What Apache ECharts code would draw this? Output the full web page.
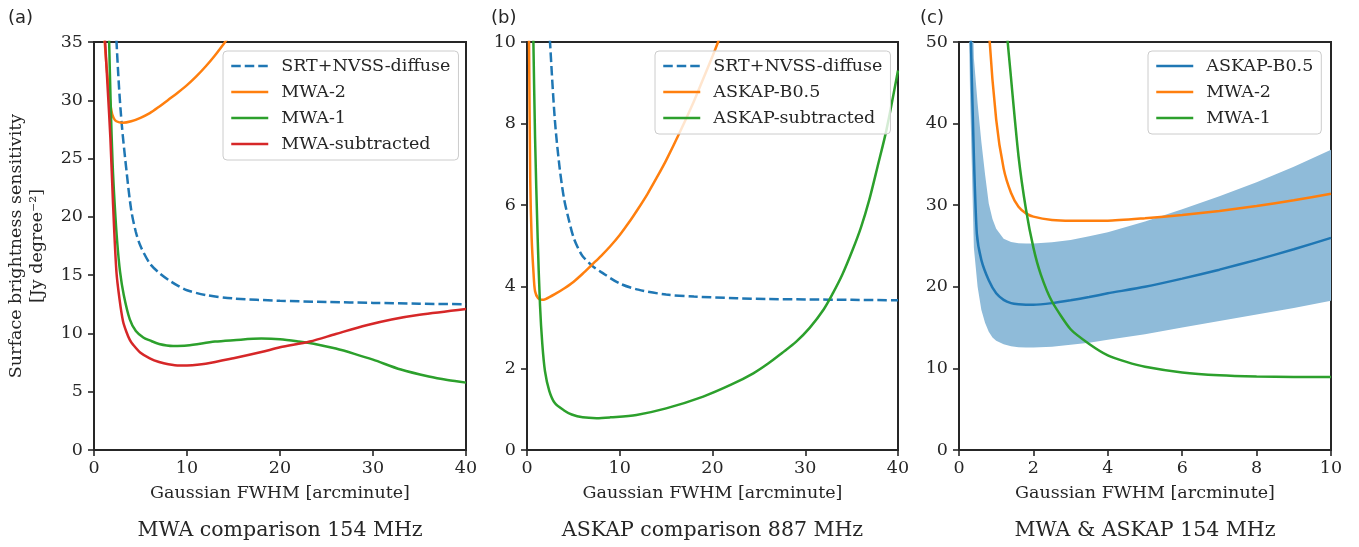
<!DOCTYPE html>
<html>
<head>
<meta charset="utf-8">
<script src="https://cdn.jsdelivr.net/npm/echarts@6/dist/echarts.min.js"></script>
<style>
  html, body { margin: 0; padding: 0; background: #ffffff; }
  #chart { width: 1359px; height: 547px; }
</style>
</head>
<body>
<div id="chart"></div>
<script>
// ---------- Panel (a): MWA comparison 154 MHz ----------
const aSrtX   = [2.3, 2.41, 2.7, 3.0, 3.5, 4.0, 4.5, 5, 6, 7, 8, 9, 10, 12, 15, 20, 25, 30, 35, 40];
const aSrtY   = [37.5, 35.2, 31.0, 27.8, 23.9, 20.6, 18.7, 17.5, 16.0, 15.2, 14.6, 14.1, 13.7, 13.3, 13.0, 12.8, 12.7, 12.62, 12.55, 12.5];
const aMwa2X  = [1.05, 1.15, 1.5, 1.87, 2.1, 2.4, 3.1, 4, 5, 6, 7, 8, 9, 10, 11, 12, 13, 14, 15];
const aMwa2Y  = [37, 35, 31.6, 29.1, 28.5, 28.2, 28.07, 28.2, 28.5, 28.9, 29.45, 30.05, 30.65, 31.3, 32.05, 32.9, 33.85, 34.9, 36.0];
const aMwa1X  = [1.5, 1.6, 1.8, 2.0, 2.23, 2.5, 2.8, 3.2, 3.85, 4.5, 5.3, 6, 7, 8.5, 10, 13, 15, 18, 20, 22, 24, 26, 28, 30, 33, 36, 38, 40];
const aMwa1Y  = [40, 36, 29.5, 24.6, 21.0, 17.8, 15.3, 13.3, 11.2, 10.2, 9.65, 9.4, 9.1, 8.93, 8.97, 9.3, 9.42, 9.56, 9.5, 9.3, 9.05, 8.7, 8.25, 7.75, 6.9, 6.3, 6.0, 5.78];
const aSubX   = [1.1, 1.2, 1.5, 1.76, 2.05, 2.41, 2.75, 3.12, 3.5, 3.85, 4.2, 5, 6, 7, 8, 9.2, 10, 12, 15, 18, 20, 23.2, 26, 29.3, 32, 35, 40];
const aSubY   = [37, 35, 30.6, 26.8, 21.06, 15.3, 12.9, 11.05, 10.1, 9.45, 9.04, 8.35, 7.87, 7.55, 7.35, 7.24, 7.25, 7.4, 7.87, 8.4, 8.81, 9.3, 9.95, 10.7, 11.2, 11.6, 12.1];

// ---------- Panel (b): ASKAP comparison 887 MHz ----------
const bSrtX   = [2.4, 2.48, 3.0, 3.5, 4.0, 4.5, 5, 5.5, 6, 7, 8, 10, 12, 15, 18, 22.6, 26, 30, 35, 40];
const bSrtY   = [10.4, 10.0, 8.1, 6.95, 6.15, 5.65, 5.22, 4.95, 4.75, 4.52, 4.36, 4.08, 3.93, 3.81, 3.76, 3.72, 3.70, 3.69, 3.68, 3.67];
const bB05X   = [0.18, 0.22, 0.35, 0.5, 0.7, 0.87, 1.2, 1.6, 2.0, 3, 4, 5, 6, 7, 8, 9, 10, 11, 12, 13, 14, 15, 16.5, 18, 19, 20, 20.6, 21];
const bB05Y   = [11, 10.0, 6.6, 5.2, 4.35, 3.89, 3.72, 3.68, 3.70, 3.82, 3.96, 4.12, 4.32, 4.54, 4.76, 5.0, 5.27, 5.58, 5.92, 6.28, 6.68, 7.1, 7.8, 8.55, 9.1, 9.65, 10.0, 10.25];
const bSubX   = [0.65, 0.69, 0.87, 1.15, 1.4, 1.65, 1.94, 2.4, 3, 4, 4.82, 6, 7.5, 9, 11.8, 15, 19, 22, 24.4, 26, 27.5, 29, 30.5, 32, 33, 34, 35.1, 36, 36.9, 37.8, 38.75, 40];
const bSubY   = [10.5, 10.0, 7.65, 5.2, 3.56, 2.6, 1.93, 1.45, 1.15, 0.97, 0.87, 0.8, 0.78, 0.8, 0.86, 1.02, 1.31, 1.6, 1.88, 2.12, 2.38, 2.65, 3.0, 3.45, 3.85, 4.3, 4.9, 5.45, 6.13, 6.95, 7.84, 9.3];

// ---------- Panel (c): MWA & ASKAP 154 MHz ----------
const cBandX  = [0.2, 0.3, 0.4, 0.5, 0.6, 0.7, 0.8, 0.9, 1.0, 1.2, 1.4, 1.6, 1.8, 2, 2.5, 3, 3.5, 4, 5, 6, 7, 8, 9, 10];
const cBandLo = [70, 43, 24.8, 20.0, 17.2, 15.6, 14.5, 13.8, 13.4, 12.95, 12.7, 12.6, 12.55, 12.55, 12.65, 12.9, 13.15, 13.5, 14.2, 15.0, 15.8, 16.6, 17.4, 18.3];
const cBandHi = [90, 66, 48, 42.5, 37.8, 33.8, 30.2, 28.3, 27.1, 25.9, 25.5, 25.35, 25.3, 25.3, 25.45, 25.75, 26.2, 26.7, 28.0, 29.5, 31.1, 32.8, 34.7, 36.8];
const cB05X   = [0.2, 0.3, 0.4, 0.48, 0.6, 0.8, 1.0, 1.2, 1.4, 1.6, 1.8, 2, 2.5, 3, 3.5, 4, 5, 6, 7, 8, 9, 10];
const cB05Y   = [80, 54, 36, 26.5, 23.3, 20.8, 19.2, 18.4, 18.0, 17.85, 17.8, 17.8, 18.0, 18.35, 18.75, 19.2, 20.0, 21.0, 22.1, 23.3, 24.6, 26.0];
const cMwa2X  = [0.6, 0.8, 1.0, 1.2, 1.4, 1.6, 1.8, 2, 2.5, 3, 4, 5, 6, 7, 8, 9, 10];
const cMwa2Y  = [75, 52, 40.5, 34.5, 31.5, 29.8, 29.0, 28.6, 28.2, 28.1, 28.1, 28.4, 28.8, 29.3, 29.9, 30.6, 31.4];
const cMwa1X  = [1.0, 1.2, 1.4, 1.6, 1.8, 2, 2.2, 2.5, 3, 3.5, 4, 4.5, 5, 6, 7, 8, 9, 10];
const cMwa1Y  = [80, 56, 45.5, 36, 29.5, 24.8, 21.5, 18.2, 14.8, 13.0, 11.6, 10.8, 10.2, 9.5, 9.15, 9.0, 8.95, 8.95];

// ---------- Axis ticks ----------
const aYTicks = { min: 0, max: 35, interval: 5 };
const bYTicks = { min: 0, max: 10, interval: 2 };
const cYTicks = { min: 0, max: 50, interval: 10 };
const abXTicks = { min: 0, max: 40, interval: 10 };
const cXTicks  = { min: 0, max: 10, interval: 2 };

// ---------- Text ----------
const xTitle = 'Gaussian FWHM [arcminute]';
const yTitle1 = 'Surface brightness sensitivity';
const yTitle2 = '[Jy degree\u207B\u00B2]';
const panelTitles = ['MWA comparison 154 MHz', 'ASKAP comparison 887 MHz', 'MWA & ASKAP 154 MHz'];
const panelTags = ['(a)', '(b)', '(c)'];

// ---------- Style ----------
const C = { blue: '#1f77b4', orange: '#ff7f0e', green: '#2ca02c', red: '#d62728', band: '#8fbbd9' };
const INK = '#262626';
const SERIF = 'DejaVu Serif';
const FS = 17.5;
const LW = 2.5;
const DASH = [9.5, 4];

const pair = (xs, ys) => xs.map((x, i) => [x, ys[i]]);

function curve(name, g, xs, ys, color, dashed, smooth) {
  return {
    type: 'line', name: name, xAxisIndex: g, yAxisIndex: g,
    data: pair(xs, ys), symbol: 'none', showSymbol: false,
    smooth: smooth, clip: true, silent: true, z: 3,
    lineStyle: { color: color, width: LW, type: dashed ? DASH : 'solid', cap: 'butt' },
    itemStyle: { color: color }
  };
}

const grids = [
  { left: 94, top: 42, width: 372, height: 408 },
  { left: 527, top: 42, width: 371, height: 408 },
  { left: 959, top: 42, width: 372, height: 408 }
].map(g => Object.assign(g, { show: true, borderColor: INK, borderWidth: 2, backgroundColor: 'transparent', containLabel: false }));

function xAxis(g, t) {
  return {
    type: 'value', gridIndex: g, min: t.min, max: t.max, interval: t.interval,
    name: xTitle, nameLocation: 'middle', nameGap: 34,
    nameTextStyle: { fontFamily: SERIF, fontSize: FS, color: INK },
    axisLine: { show: false },
    axisTick: { show: true, length: 6, lineStyle: { color: INK, width: 1.6 } },
    axisLabel: { fontFamily: SERIF, fontSize: FS, color: INK, margin: 9 },
    splitLine: { show: false }
  };
}
function yAxis(g, t) {
  return {
    type: 'value', gridIndex: g, min: t.min, max: t.max, interval: t.interval,
    axisLine: { show: false },
    axisTick: { show: true, length: 6, lineStyle: { color: INK, width: 1.6 } },
    axisLabel: { fontFamily: SERIF, fontSize: FS, color: INK, margin: 11 },
    splitLine: { show: false }
  };
}

// Legend entries carry their own line style; the marker dot is hidden so only the line sample shows
function legendItem(name, color, dashed) {
  return {
    name: name,
    lineStyle: { color: color, width: LW, type: dashed ? DASH : 'solid' },
    itemStyle: { color: color, opacity: 0, borderWidth: 0 }
  };
}
function legend(left, items) {
  return {
    left: left, top: 51, orient: 'vertical', selectedMode: false,
    itemWidth: 37, itemHeight: 14, itemGap: 6,
    padding: [5, 8, 6, 7],
    backgroundColor: 'rgba(255,255,255,0.8)', borderColor: '#cccccc', borderWidth: 1, borderRadius: 4,
    textStyle: { fontFamily: SERIF, fontSize: FS, color: INK, lineHeight: 20, padding: [0, 0, 0, 8] },
    data: items
  };
}

// Shaded range around ASKAP-B0.5 in panel (c): polygon through upper bounds, back along lower bounds
const bandSeries = {
  type: 'custom', name: 'ASKAP-B0.5 range', xAxisIndex: 2, yAxisIndex: 2,
  data: pair(cBandX, cBandLo), silent: true, z: 1, clip: true,
  renderItem: function (params, api) {
    if (params.dataIndex !== 0) return null;
    const cs = params.coordSys;
    const upper = cBandX.map((x, i) => api.coord([x, cBandHi[i]]));
    const lower = cBandX.map((x, i) => api.coord([x, cBandLo[i]])).reverse();
    return {
      type: 'group',
      clipPath: { type: 'rect', shape: { x: cs.x, y: cs.y, width: cs.width, height: cs.height } },
      children: [{
        type: 'polygon',
        shape: { points: upper.concat(lower) },
        style: { fill: C.band, stroke: null }
      }]
    };
  }
};

const series = [
  // (a)
  curve('SRT+NVSS-diffuse', 0, aSrtX, aSrtY, C.blue, true, 0.3),
  curve('MWA-2', 0, aMwa2X, aMwa2Y, C.orange, false, 0.3),
  curve('MWA-1', 0, aMwa1X, aMwa1Y, C.green, false, 0.3),
  curve('MWA-subtracted', 0, aSubX, aSubY, C.red, false, 0.3),
  // (b)
  curve('SRT+NVSS-diffuse', 1, bSrtX, bSrtY, C.blue, true, 0.3),
  curve('ASKAP-B0.5', 1, bB05X, bB05Y, C.orange, false, 0.3),
  curve('ASKAP-subtracted', 1, bSubX, bSubY, C.green, false, 0.3),
  // (c)
  bandSeries,
  curve('ASKAP-B0.5', 2, cB05X, cB05Y, C.blue, false, 0.2),
  curve('MWA-2', 2, cMwa2X, cMwa2Y, C.orange, false, 0.2),
  curve('MWA-1', 2, cMwa1X, cMwa1Y, C.green, false, 0.2)
];

const centers = grids.map(g => g.left + g.width / 2);
const graphics = [];
panelTitles.forEach((t, i) => graphics.push({
  type: 'text', x: centers[i], y: 531,
  style: { text: t, font: '20.5px "' + SERIF + '"', fill: INK, align: 'center', verticalAlign: 'middle', textAlign: 'center', textVerticalAlign: 'middle' }
}));
[8, 491, 920].forEach((x, i) => graphics.push({
  type: 'text', x: x, y: 18,
  style: { text: panelTags[i], font: '18px "DejaVu Sans"', fill: INK, align: 'left', verticalAlign: 'middle', textAlign: 'left', textVerticalAlign: 'middle' }
}));
[[16, yTitle1], [37, yTitle2]].forEach(([x, t]) => graphics.push({
  type: 'text', x: x, y: 246, rotation: Math.PI / 2,
  style: { text: t, font: FS + 'px "' + SERIF + '"', fill: INK, align: 'center', verticalAlign: 'middle', textAlign: 'center', textVerticalAlign: 'middle' }
}));

const option = {
  animation: false,
  backgroundColor: '#ffffff',
  grid: grids,
  xAxis: [xAxis(0, abXTicks), xAxis(1, abXTicks), xAxis(2, cXTicks)],
  yAxis: [yAxis(0, aYTicks), yAxis(1, bYTicks), yAxis(2, cYTicks)],
  legend: [
    legend(223, [
      legendItem('SRT+NVSS-diffuse', C.blue, true),
      legendItem('MWA-2', C.orange, false),
      legendItem('MWA-1', C.green, false),
      legendItem('MWA-subtracted', C.red, false)
    ]),
    legend(655, [
      legendItem('SRT+NVSS-diffuse', C.blue, true),
      legendItem('ASKAP-B0.5', C.orange, false),
      legendItem('ASKAP-subtracted', C.green, false)
    ]),
    legend(1148, [
      legendItem('ASKAP-B0.5', C.blue, false),
      legendItem('MWA-2', C.orange, false),
      legendItem('MWA-1', C.green, false)
    ])
  ],
  graphic: graphics,
  series: series
};

const chart = echarts.init(document.getElementById('chart'), null, { renderer: 'canvas' });
chart.setOption(option);
</script>
</body>
</html>
